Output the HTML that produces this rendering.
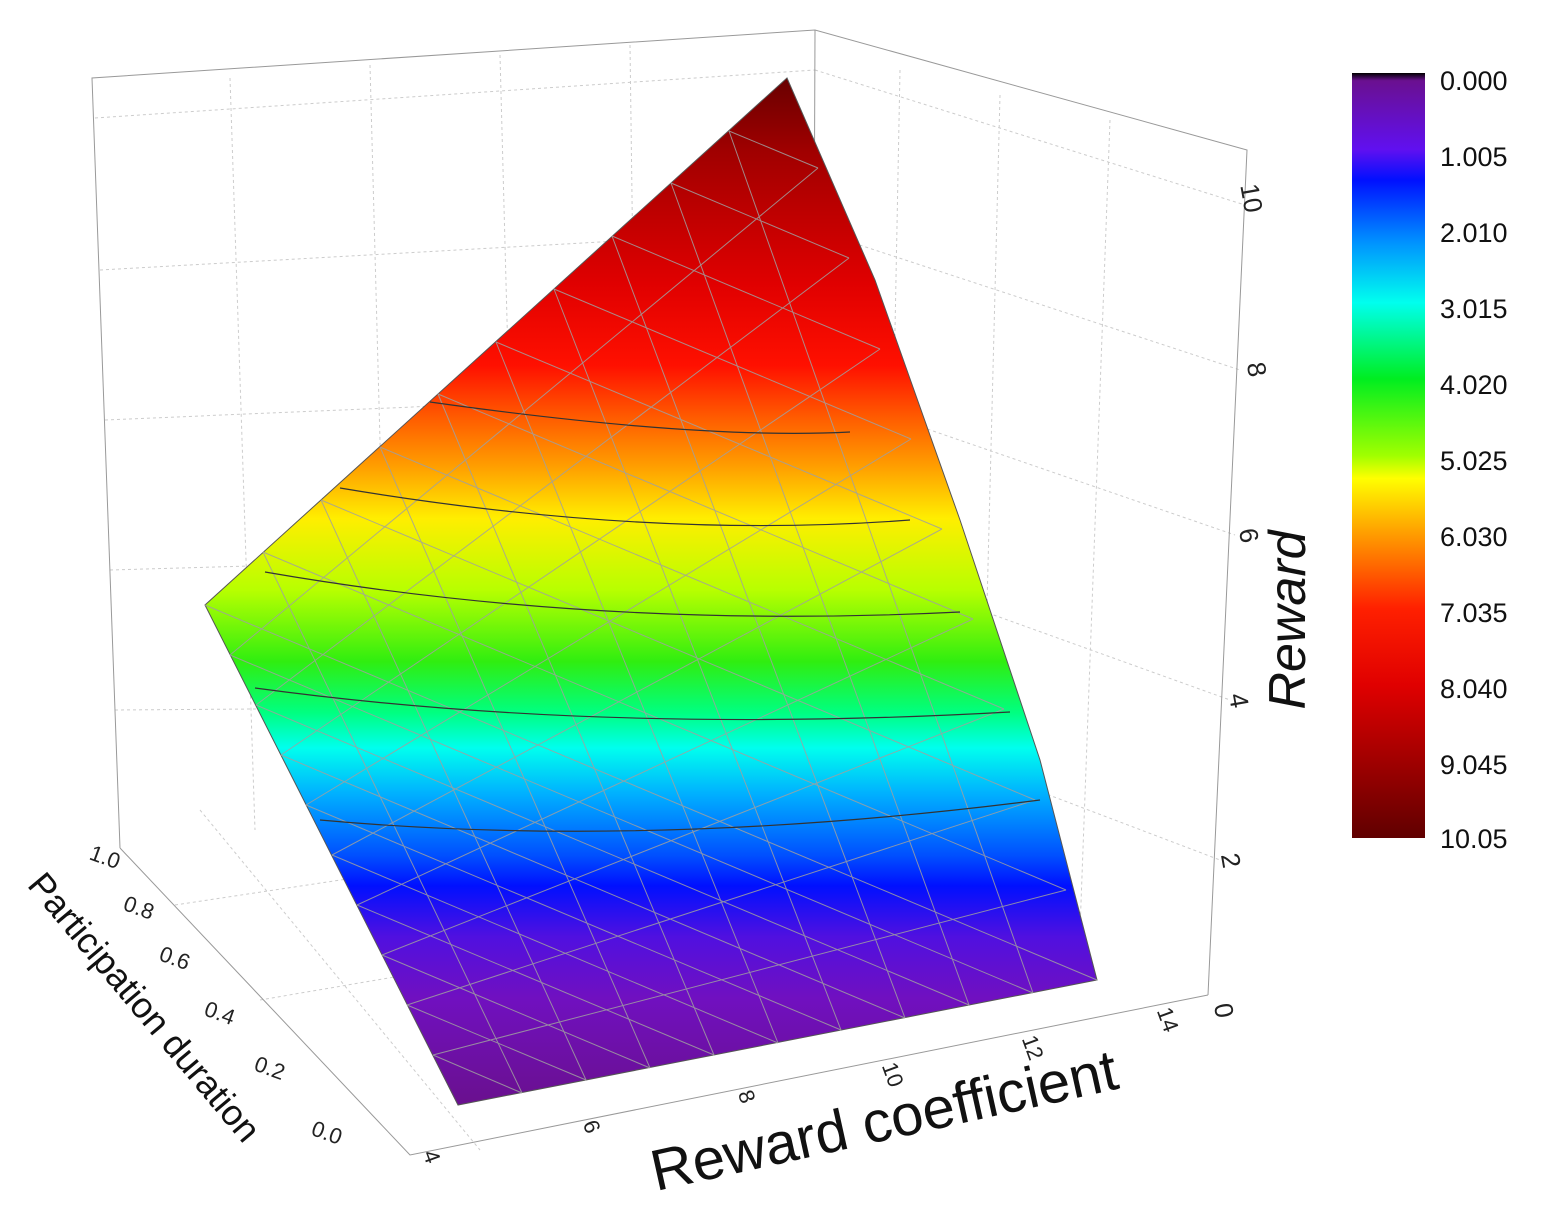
<!DOCTYPE html>
<html><head><meta charset="utf-8"><style>
body{margin:0;background:#fff;}
svg{display:block;font-family:"Liberation Sans",sans-serif;}
</style></head><body>
<svg width="1557" height="1217" viewBox="0 0 1557 1217">
<defs>
<linearGradient id="sg" x1="0" y1="80" x2="0" y2="1100" gradientUnits="userSpaceOnUse">
<stop offset="0" stop-color="#6a0000"/>
<stop offset="0.07" stop-color="#a00000"/>
<stop offset="0.2" stop-color="#e00000"/>
<stop offset="0.28" stop-color="#ff1000"/>
<stop offset="0.33" stop-color="#ff5a00"/>
<stop offset="0.38" stop-color="#ffa000"/>
<stop offset="0.43" stop-color="#ffee00"/>
<stop offset="0.5" stop-color="#b8ff00"/>
<stop offset="0.57" stop-color="#30ee10"/>
<stop offset="0.62" stop-color="#00ff80"/>
<stop offset="0.655" stop-color="#00ffee"/>
<stop offset="0.7" stop-color="#00b0ff"/>
<stop offset="0.76" stop-color="#0050ff"/>
<stop offset="0.79" stop-color="#0010ff"/>
<stop offset="0.84" stop-color="#5010e0"/>
<stop offset="0.9" stop-color="#7010c0"/>
<stop offset="1" stop-color="#6a1090"/>
</linearGradient>
<linearGradient id="cb" x1="0" y1="0" x2="0" y2="1">
<stop offset="0" stop-color="#000"/>
<stop offset="0.01" stop-color="#6a1090"/>
<stop offset="0.1" stop-color="#6010f0"/>
<stop offset="0.14" stop-color="#0010ff"/>
<stop offset="0.22" stop-color="#0090ff"/>
<stop offset="0.3" stop-color="#00ffee"/>
<stop offset="0.4" stop-color="#00ee20"/>
<stop offset="0.5" stop-color="#a0ff00"/>
<stop offset="0.53" stop-color="#ffff00"/>
<stop offset="0.6" stop-color="#ffa000"/>
<stop offset="0.7" stop-color="#ff2000"/>
<stop offset="0.8" stop-color="#e00000"/>
<stop offset="0.9" stop-color="#a00000"/>
<stop offset="1" stop-color="#600000"/>
</linearGradient>
</defs>
<g stroke="#ccc" stroke-dasharray="3,3" stroke-width="1" fill="none">
<line x1="230" y1="78" x2="255" y2="830"/><line x1="370" y1="65" x2="390" y2="818"/><line x1="500" y1="55" x2="520" y2="812"/><line x1="630" y1="45" x2="640" y2="805"/>
<line x1="95" y1="118" x2="815" y2="70"/><line x1="100" y1="270" x2="815" y2="230"/><line x1="105" y1="420" x2="814" y2="390"/><line x1="110" y1="570" x2="813" y2="550"/><line x1="115" y1="710" x2="812" y2="705"/>
<line x1="900" y1="70" x2="885" y2="850"/><line x1="1000" y1="95" x2="980" y2="880"/><line x1="1110" y1="120" x2="1080" y2="930"/>
<line x1="815" y1="70" x2="1245" y2="205"/><line x1="814" y1="230" x2="1240" y2="370"/><line x1="814" y1="390" x2="1235" y2="535"/><line x1="813" y1="550" x2="1230" y2="700"/><line x1="812" y1="705" x2="1220" y2="860"/>
<line x1="175" y1="905" x2="870" y2="800"/><line x1="260" y1="1000" x2="960" y2="880"/><line x1="200" y1="810" x2="480" y2="1150"/>
</g>
<g stroke="#999" stroke-width="1" fill="none">
<polyline points="120,848 92,78 815,30 1247,150 1208,995"/>
<line x1="815" y1="30" x2="812" y2="800"/>
<polyline points="120,848 410,1155 1208,995"/>
</g>
<polygon points="787,78 205,605 458,1105 1097,980 1040,760 960,520 875,280" fill="url(#sg)" stroke="#555" stroke-width="1"/>
<g stroke="#a0a0a0" stroke-width="1" fill="none" opacity="0.85">
<line x1="729" y1="131" x2="1033" y2="993"/><line x1="671" y1="183" x2="969" y2="1005"/><line x1="612" y1="236" x2="905" y2="1018"/><line x1="554" y1="289" x2="841" y2="1030"/><line x1="496" y1="342" x2="778" y2="1043"/><line x1="438" y1="394" x2="714" y2="1055"/><line x1="380" y1="447" x2="650" y2="1068"/><line x1="321" y1="500" x2="586" y2="1080"/><line x1="263" y1="552" x2="522" y2="1093"/>
<line x1="818" y1="168" x2="230" y2="655"/><line x1="849" y1="258" x2="256" y2="705"/><line x1="880" y1="349" x2="281" y2="755"/><line x1="911" y1="439" x2="306" y2="805"/><line x1="942" y1="529" x2="332" y2="855"/><line x1="973" y1="619" x2="357" y2="905"/><line x1="1004" y1="709" x2="382" y2="955"/><line x1="1035" y1="800" x2="407" y2="1005"/><line x1="1066" y1="890" x2="433" y2="1055"/>
<line x1="729" y1="131" x2="818" y2="168"/><line x1="671" y1="183" x2="849" y2="258"/><line x1="612" y1="236" x2="880" y2="349"/><line x1="554" y1="289" x2="911" y2="439"/><line x1="496" y1="342" x2="942" y2="529"/><line x1="438" y1="394" x2="973" y2="619"/><line x1="380" y1="447" x2="1004" y2="709"/><line x1="321" y1="500" x2="1035" y2="800"/><line x1="263" y1="552" x2="1066" y2="890"/><line x1="205" y1="605" x2="1097" y2="980"/>
<line x1="230" y1="655" x2="1033" y2="993"/><line x1="256" y1="705" x2="969" y2="1005"/><line x1="281" y1="755" x2="905" y2="1018"/><line x1="306" y1="805" x2="841" y2="1030"/><line x1="332" y1="855" x2="778" y2="1043"/><line x1="357" y1="905" x2="714" y2="1055"/><line x1="382" y1="955" x2="650" y2="1068"/><line x1="407" y1="1005" x2="586" y2="1080"/><line x1="433" y1="1055" x2="522" y2="1093"/>
</g>
<g stroke="#333" stroke-width="1.2" fill="none">
<path d="M430,402 Q700,440 850,432"/><path d="M340,488 Q650,540 910,520"/><path d="M265,572 Q600,630 960,612"/><path d="M255,688 Q600,735 1010,712"/><path d="M320,820 Q650,850 1040,800"/>
</g>
<g fill="#222" font-size="26">
<text x="1238" y="212" transform="rotate(80 1255 200)">10</text>
<text x="1250" y="380" transform="rotate(80 1258 370)">8</text>
<text x="1243" y="545" transform="rotate(80 1250 535)">6</text>
<text x="1233" y="710" transform="rotate(80 1240 700)">4</text>
<text x="1225" y="870" transform="rotate(80 1232 860)">2</text>
<text x="1218" y="1020" transform="rotate(80 1225 1010)">0</text>
</g>
<text x="1305" y="620" font-size="52" font-style="italic" fill="#111" text-anchor="middle" transform="rotate(-90 1305 620)">Reward</text>
<g fill="#222" font-size="22">
<text x="90" y="862" transform="rotate(20 98 855)">1.0</text>
<text x="124" y="912" transform="rotate(20 130 905)">0.8</text>
<text x="160" y="962" transform="rotate(20 165 955)">0.6</text>
<text x="205" y="1017" transform="rotate(20 210 1010)">0.4</text>
<text x="255" y="1072" transform="rotate(20 260 1065)">0.2</text>
<text x="312" y="1137" transform="rotate(20 318 1130)">0.0</text>
<text x="418" y="1160" transform="rotate(70 425 1160)">4</text>
<text x="578" y="1130" transform="rotate(70 585 1130)">6</text>
<text x="733" y="1100" transform="rotate(70 740 1100)">8</text>
<text x="875" y="1075" transform="rotate(70 885 1075)">10</text>
<text x="1015" y="1048" transform="rotate(70 1025 1048)">12</text>
<text x="1150" y="1020" transform="rotate(70 1160 1020)">14</text>
</g>
<text x="885" y="1140" font-size="58" fill="#111" text-anchor="middle" transform="rotate(-12.5 885 1125)">Reward coefficient</text>
<text x="135" y="1015" font-size="36" fill="#111" text-anchor="middle" transform="rotate(50 135 1015)">Participation duration</text>
<rect x="1352" y="73" width="73" height="765" fill="url(#cb)"/>
<g fill="#111" font-size="27">
<text x="1440" y="90">0.000</text><text x="1440" y="166">1.005</text><text x="1440" y="242">2.010</text><text x="1440" y="318">3.015</text><text x="1440" y="394">4.020</text><text x="1440" y="470">5.025</text><text x="1440" y="546">6.030</text><text x="1440" y="622">7.035</text><text x="1440" y="698">8.040</text><text x="1440" y="774">9.045</text><text x="1440" y="848">10.05</text>
</g>
</svg>
</body></html>
